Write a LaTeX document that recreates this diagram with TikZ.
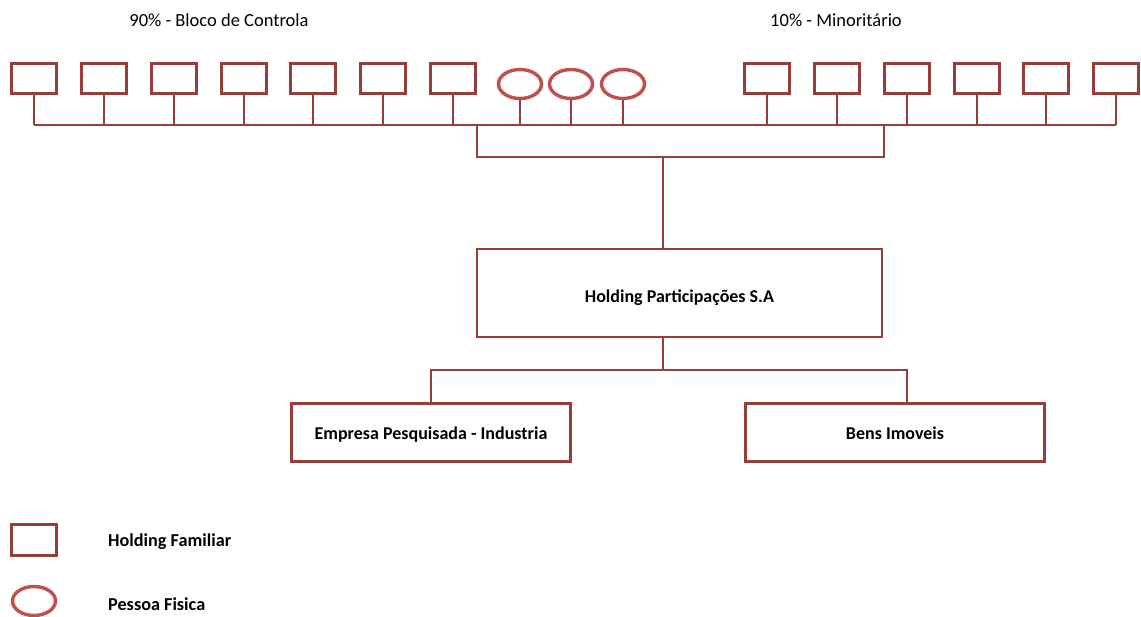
\documentclass[tikz,border=0pt]{standalone}
\usepackage{fontspec}
\setmainfont{Carlito}
\usetikzlibrary{shapes.geometric}
\definecolor{boxred}{HTML}{993D3B}
\definecolor{ellred}{HTML}{C0504D}
\begin{document}
\begin{tikzpicture}[x=1pt,y=-1pt,
  hf/.style={draw=boxred, line width=2.7pt, minimum width=45.5pt, minimum height=30.5pt, inner sep=0pt},
  pf/.style={draw=ellred, line width=3.4pt, ellipse, minimum width=43pt, minimum height=29pt, inner sep=0pt},
  ent/.style={draw=boxred, line width=2.7pt, inner sep=0pt, font=\bfseries\fontsize{18}{21}\selectfont},
  conn/.style={draw=boxred, line width=2.7pt},
  lbl/.style={font=\fontsize{18.5}{22}\selectfont, inner sep=0pt},
  leg/.style={font=\bfseries\fontsize{18.2}{22}\selectfont, inner sep=0pt, anchor=west}]
\useasboundingbox (0,0) rectangle (1141,617);
% top labels
\node[lbl] (t90) at (219,20) {90\% - Bloco de Controla};
\node[lbl] (t10) at (836,20) {10\% - Minoritário};
% holdings familiares (left)
\node[hf] (h1) at (34,78.5) {};
\node[hf] (h2) at (104,78.5) {};
\node[hf] (h3) at (174,78.5) {};
\node[hf] (h4) at (244,78.5) {};
\node[hf] (h5) at (313,78.5) {};
\node[hf] (h6) at (383,78.5) {};
\node[hf] (h7) at (453,78.5) {};
% pessoas fisicas
\node[pf] (p1) at (520,84) {};
\node[pf] (p2) at (571,84) {};
\node[pf] (p3) at (623,84) {};
% holdings familiares (right)
\node[hf] (m1) at (767,78.5) {};
\node[hf] (m2) at (837,78.5) {};
\node[hf] (m3) at (907,78.5) {};
\node[hf] (m4) at (977,78.5) {};
\node[hf] (m5) at (1046,78.5) {};
\node[hf] (m6) at (1116,78.5) {};
% bus
\coordinate (busL) at (34,125);
\coordinate (busR) at (1116,125);
\draw[conn] (busL) -- (busR);
\foreach \n in {h1,h2,h3,h4,h5,h6,h7,p1,p2,p3,m1,m2,m3,m4,m5,m6}
  \draw[conn] (\n.south) -- (\n.south |- busL);
% bracket
\coordinate (j1) at (477,125);
\coordinate (j2) at (884,125);
\coordinate (hub) at (663,157);
\draw[conn] (j1) |- (hub) -| (j2);
% holding
\node[ent, minimum width=405pt, minimum height=88pt, text height=23pt, text depth=4pt] (hold) at (679.5,293) {Holding Participações S.A};
\draw[conn] (hub) -- (hub |- hold.north);
\coordinate (split) at (663,370);
\draw[conn] (split |- hold.south) -- (split);
% children
\node[ent, minimum width=279.5pt, minimum height=58.5pt, text height=19pt, text depth=4pt] (emp) at (431,432.5) {Empresa Pesquisada - Industria};
\node[ent, minimum width=299.5pt, minimum height=58.5pt, text height=19pt, text depth=4pt] (bens) at (895,432.5) {Bens Imoveis};
\draw[conn] (emp.north) |- (split) -| ([xshift=12pt]bens.north);
% legend
\node[hf] (lh) at (34,540) {};
\node[pf] (lp) at (34,601) {};
\node[leg] (lht) at (108,542) {Holding Familiar};
\node[leg] (lpt) at (108,604) {Pessoa Fisica};
\end{tikzpicture}
\end{document}
